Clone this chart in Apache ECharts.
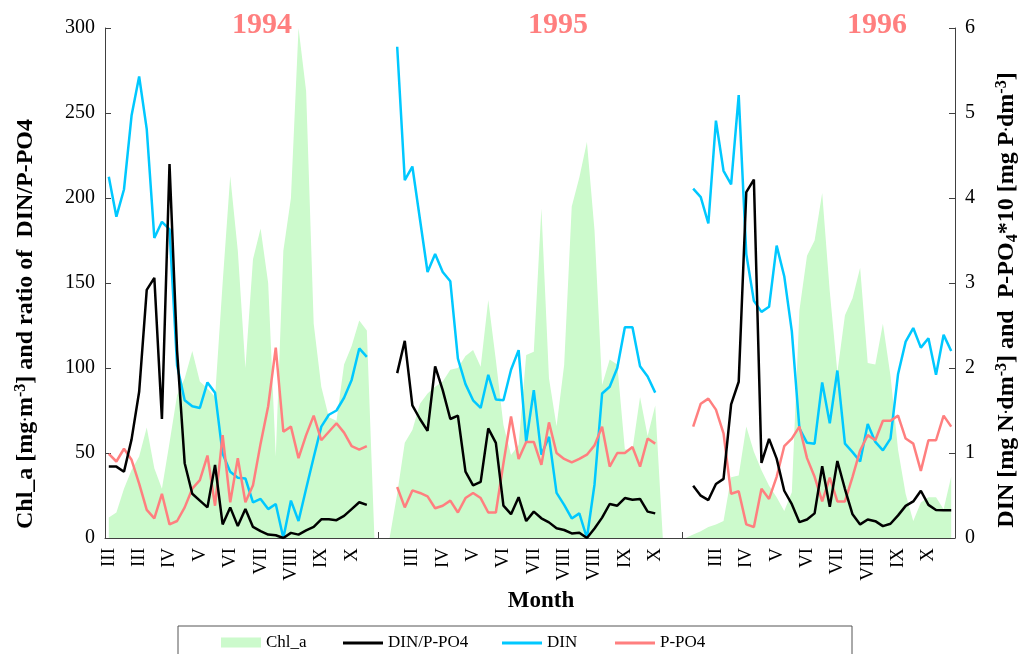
<!DOCTYPE html>
<html><head><meta charset="utf-8">
<script src="https://cdn.jsdelivr.net/npm/echarts@6/dist/echarts.min.js"></script>
<style>html,body{margin:0;padding:0;background:#fff}#c{width:1020px;height:654px}</style>
</head><body><div id="c"></div>
<script>
// Month tick labels: one per 4 samples (empty = unlabeled tick)
const monthTicks = ['III','III','IV','V','VI','VII','VIII','IX','X','',
                    'III','IV','V','VI','VII','VIII','VIII','IX','X',
                    '','III','IV','V','VI','VII','VIII','IX','X'];
const yearLabels = ['1994','1995','1996'];
const sampleCount = 112;

// Chl_a [mg m-3]
const chl1994 = [12,15,29,40,48,65,41,29,56,84,94,110,92,88,83,150,213,169,100,164,182,150,48,169,200,300,263,126,89,71,69,102,113,128,122,0];
const chl1995 = [0,26,56,63.5,79,85,89,92,99,100,107,110.6,100.8,140,104.7,66.5,48.8,54.7,107.6,109.6,194,94,65.7,101.8,195,212,233,181,90,105,102,52,52,83,60,78,0];
const chl1996 = [0,2,4,6.4,8,10,35.8,36.8,65.6,50.7,39.8,30.8,23.9,15.9,26.9,134,166,175,203,145,97.5,131,141,159,103,102,126,95.5,51.7,25.9,10,20.9,23.9,23.9,16.9,36.2];

// DIN/P-PO4 ratio
const ratio1994 = [42,42,39,58,86,146,153,70,220,110,44,26,22,18,43,8,18,7,17,6.5,4,2,1.6,0,3,2,4.5,6.5,11,11,10.5,13,17,21,19.5];
const ratio1995 = [97,116,78,70,63,101,87,70,72,39,31,33,64.5,56,19,14,24,10,15.5,11.6,9.2,5.7,4.7,2.7,3.1,0,5.6,12,20,19,23.5,22.5,23,15.5,14.5];
const ratio1996 = [30.8,24.9,22.3,31.8,34.8,78.6,91.9,203.5,210.8,44.2,58.3,46.7,27.8,19.9,9.3,10.9,14.5,42.2,18.3,45.3,28.8,13.9,8,10.9,9.9,7,8.4,13.3,18.9,21.5,27.8,19.5,16.5,16.3,16.3];

// DIN [mg N dm-3]
const din1994 = [4.25,3.78,4.10,4.97,5.43,4.81,3.53,3.72,3.63,2.03,1.62,1.55,1.53,1.83,1.71,0.99,0.78,0.71,0.70,0.42,0.46,0.34,0.40,0,0.44,0.20,0.58,0.95,1.31,1.45,1.50,1.65,1.86,2.23,2.13];
const din1995 = [5.78,4.21,4.37,3.75,3.13,3.34,3.13,3.02,2.11,1.81,1.62,1.53,1.92,1.63,1.62,1.98,2.21,1.13,1.74,0.98,1.19,0.53,0.39,0.23,0.29,0,0.63,1.70,1.78,2.00,2.48,2.48,2.02,1.90,1.71];
const din1996 = [4.11,4.01,3.70,4.91,4.32,4.16,5.21,3.34,2.79,2.66,2.72,3.44,3.08,2.43,1.29,1.12,1.11,1.83,1.35,1.97,1.11,1.01,0.90,1.34,1.13,1.03,1.17,1.93,2.31,2.47,2.24,2.35,1.92,2.39,2.20];

// P-PO4*10 [mg P dm-3]
const ppo1994 = [0.99,0.90,1.05,0.92,0.64,0.33,0.23,0.52,0.16,0.20,0.36,0.58,0.68,0.97,0.38,1.21,0.42,0.94,0.42,0.62,1.11,1.55,2.24,1.25,1.31,0.94,1.21,1.44,1.15,1.25,1.35,1.24,1.08,1.04,1.08];
const ppo1995 = [0.60,0.36,0.56,0.53,0.49,0.35,0.38,0.44,0.30,0.47,0.53,0.47,0.30,0.30,0.88,1.43,0.93,1.13,1.13,0.86,1.36,1.00,0.93,0.89,0.93,0.98,1.09,1.31,0.84,1.00,1.00,1.07,0.84,1.17,1.11];
const ppo1996 = [1.31,1.58,1.64,1.51,1.23,0.52,0.55,0.16,0.13,0.58,0.46,0.72,1.08,1.17,1.31,0.94,0.72,0.43,0.71,0.43,0.43,0.72,1.03,1.21,1.15,1.38,1.38,1.44,1.17,1.11,0.79,1.15,1.15,1.44,1.31];

const gap = n => Array(n).fill(null);
const samples = Array.from({length: sampleCount}, (_, i) => String(i));
const chl = [...chl1994, ...gap(1), ...chl1995, ...gap(2), ...chl1996];
const ratio = [...ratio1994, ...gap(3), ...ratio1995, ...gap(4), ...ratio1996];
const din = [...din1994, ...gap(3), ...din1995, ...gap(4), ...din1996];
const ppo = [...ppo1994, ...gap(3), ...ppo1995, ...gap(4), ...ppo1996];

const SERIF = "'Liberation Serif', 'Times New Roman', serif";
const GREEN = '#CCFACC', BLUE = '#00C8FF', SALMON = '#FF7F7F';
const axisCol = '#404040';

const chart = echarts.init(document.getElementById('c'), null, {renderer: 'canvas'});
const richBase = {
  d: {fontSize: 14, fontWeight: 'bold', fontFamily: SERIF, fill: '#000'},
  sup: {fontSize: 16, fontWeight: 'bold', fontFamily: SERIF, verticalAlign: 'top', fill: '#000'},
  sub: {fontSize: 16, fontWeight: 'bold', fontFamily: SERIF, verticalAlign: 'bottom', fill: '#000'}
};
const yearX = [262, 558, 877];
const legendLeft = [216, 338, 497, 610];
const names = ['Chl_a', 'DIN/P-PO4', 'DIN', 'P-PO4'];
const colors = [GREEN, '#000', BLUE, SALMON];

chart.setOption({
  animation: false,
  backgroundColor: '#fff',
  grid: {left: 105, right: 65, top: 28, bottom: 116, containLabel: false},
  xAxis: {
    type: 'category', data: samples, boundaryGap: true,
    axisLine: {show: true, lineStyle: {color: axisCol, width: 1}},
    axisTick: {show: true, inside: true, length: 6, interval: 3, lineStyle: {color: axisCol}},
    axisLabel: {interval: 3, rotate: 90, margin: 10, fontFamily: SERIF, fontSize: 19, color: '#000',
      formatter: (v, i) => monthTicks[Math.round(i / 4)] || ''},
    splitLine: {show: false}
  },
  yAxis: [{
    type: 'value', min: 0, max: 300, interval: 50, position: 'left',
    axisLine: {show: true, lineStyle: {color: axisCol}},
    axisTick: {show: true, inside: true, length: 6, lineStyle: {color: axisCol}},
    axisLabel: {fontFamily: SERIF, fontSize: 20, color: '#000', margin: 10},
    splitLine: {show: false}
  }, {
    type: 'value', min: 0, max: 6, interval: 1, position: 'right',
    axisLine: {show: true, lineStyle: {color: axisCol}},
    axisTick: {show: true, inside: true, length: 6, lineStyle: {color: axisCol}},
    axisLabel: {fontFamily: SERIF, fontSize: 20, color: '#000', margin: 10},
    splitLine: {show: false}
  }],
  legend: names.map((n, k) => ({
    left: legendLeft[k], top: k === 0 ? 629 : 629.5, itemWidth: 40, itemHeight: k === 0 ? 10 : 3, itemGap: 0,
    textStyle: {fontFamily: SERIF, fontSize: 17, color: '#000'},
    data: [{name: n, icon: 'rect', itemStyle: {color: colors[k], borderWidth: 0}}]
  })),
  graphic: [
    ...yearLabels.map((t, k) => ({
      type: 'text', x: yearX[k], y: 25, silent: true,
      style: {text: t, fill: SALMON, font: "bold 30px " + SERIF, textAlign: 'center', textVerticalAlign: 'middle'}
    })),
    {type: 'text', x: 541, y: 601, silent: true,
     style: {text: 'Month', fill: '#000', font: "bold 23px " + SERIF, textAlign: 'center', textVerticalAlign: 'middle'}},
    {type: 'text', x: 26, y: 324, rotation: Math.PI / 2, silent: true,
     style: {text: 'Chl_a [mg{d|·}m{sup|-3}] and ratio of  DIN/P-PO4', font: "bold 24px " + SERIF, fill: '#000',
       textAlign: 'center', textVerticalAlign: 'middle', lineHeight: 27, rich: richBase}},
    {type: 'text', x: 1007, y: 300, rotation: Math.PI / 2, silent: true,
     style: {text: 'DIN [mg N{d|·}dm{sup|-3}] and  P-PO{sub|4}*10 [mg P{d|·}dm{sup|-3}]', font: "bold 24px " + SERIF, fill: '#000',
       textAlign: 'center', textVerticalAlign: 'middle', lineHeight: 27, rich: richBase}},
    {type: 'rect', shape: {x: 178, y: 626, width: 674, height: 40}, silent: true,
     style: {fill: 'none', stroke: '#555', lineWidth: 1}}
  ],
  series: [
    {name: 'Chl_a', type: 'line', yAxisIndex: 0, data: chl, symbol: 'none', z: 1, color: GREEN,
     lineStyle: {width: 0}, areaStyle: {color: GREEN, opacity: 1}, connectNulls: false},
    {name: 'DIN/P-PO4', type: 'line', yAxisIndex: 0, data: ratio, symbol: 'none', z: 3, color: '#000',
     lineStyle: {width: 2.5, color: '#000'}},
    {name: 'DIN', type: 'line', yAxisIndex: 1, data: din, symbol: 'none', z: 2, color: BLUE,
     lineStyle: {width: 2.5, color: BLUE}},
    {name: 'P-PO4', type: 'line', yAxisIndex: 1, data: ppo, symbol: 'none', z: 2, color: SALMON,
     lineStyle: {width: 2.5, color: SALMON}}
  ]
});
</script></body></html>
